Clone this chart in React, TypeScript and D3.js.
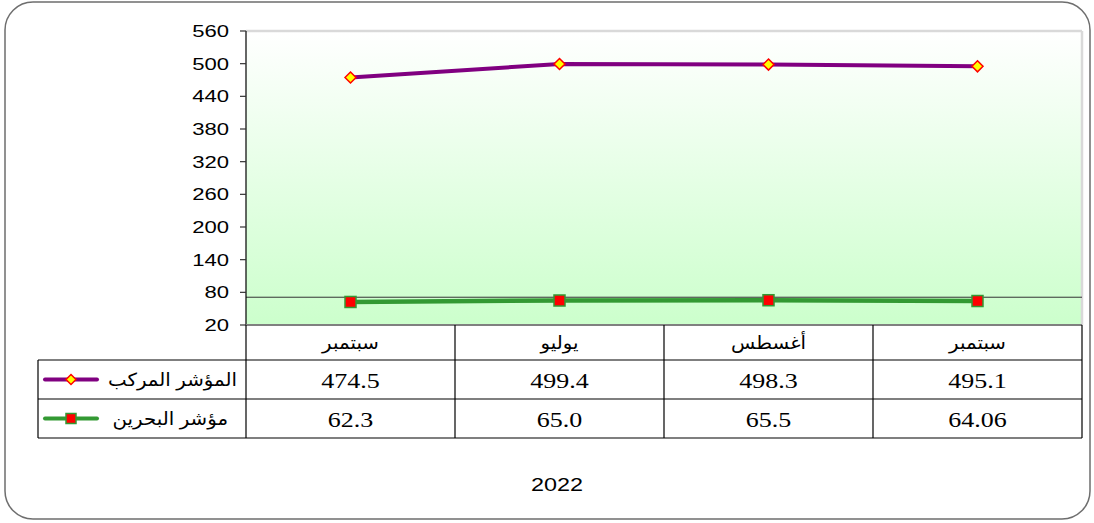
import React from "react";
import * as d3 from "d3";

const categories = ["سبتمبر", "يوليو", "أغسطس", "سبتمبر"];
const compositeValues = [474.5, 499.4, 498.3, 495.1];
const compositeLabels = ["474.5", "499.4", "498.3", "495.1"];
const bahrainValues = [62.3, 65.0, 65.5, 64.06];
const bahrainLabels = ["62.3", "65.0", "65.5", "64.06"];
const seriesNames = ["المؤشر المركب", "مؤشر البحرين"];
const yTicks = [20, 80, 140, 200, 260, 320, 380, 440, 500, 560];
const refLineValue = 71;
const yearLabel = "2022";

const W = 1094;
const H = 523;
const plotL = 246;
const plotR = 1082;
const plotT = 31;
const plotB = 325;
const tableLeft = 38;
const rowBounds = [325, 360, 399, 438];
const stretch = 1.3;

const sansFont = "'Liberation Sans', Arial, 'DejaVu Sans', sans-serif";
const serifFont = "'Liberation Serif', 'Times New Roman', 'DejaVu Sans', serif";

function SText(props: {
  x: number;
  y: number;
  anchor: string;
  font: string;
  size: number;
  sx?: number;
  children: React.ReactNode;
}) {
  const sx = props.sx ?? stretch;
  return (
    <text
      transform={`translate(${props.x},${props.y}) scale(${sx},1)`}
      dy="0.35em"
      textAnchor={props.anchor}
      fontFamily={props.font}
      fontSize={props.size}
      fill="#000"
    >
      {props.children}
    </text>
  );
}

export default function App() {
  const x = d3.scaleBand<number>().domain(d3.range(categories.length)).range([plotL, plotR]).padding(0);
  const y = d3.scaleLinear().domain([20, 560]).range([plotB, plotT]);
  const cx = (i: number) => (x(i) as number) + x.bandwidth() / 2;
  const line = d3.line<number>().x((_, i) => cx(i)).y((v) => y(v));

  const diamond = (px: number, py: number, r: number) =>
    `M${px},${py - r}L${px + r},${py}L${px},${py + r}L${px - r},${py}Z`;

  const colEdges = [plotL, ...categories.map((_, i) => (x(i) as number) + x.bandwidth())];

  return (
    <svg
      width={W}
      height={H}
      style={{ position: "absolute", left: 0, top: 0, background: "#fff" }}
    >
      <defs>
        <linearGradient id="bg" x1="0" y1="0" x2="0" y2="1">
          <stop offset="0" stopColor="#ffffff" />
          <stop offset="1" stopColor="#ccffcc" />
        </linearGradient>
      </defs>
      <rect x={5} y={2} width={1085} height={517} rx={28} ry={28} fill="#fff" stroke="#6e6e6e" strokeWidth={1.5} />

      {/* plot area */}
      <rect x={plotL} y={plotT} width={plotR - plotL} height={plotB - plotT} fill="url(#bg)" />
      <line x1={plotL} x2={plotR} y1={plotT} y2={plotT} stroke="#d9d9d9" strokeWidth={2.5} />
      <line x1={plotR} x2={plotR} y1={plotT} y2={plotB} stroke="#d9d9d9" strokeWidth={2.5} />
      <line x1={plotL} x2={plotR} y1={y(refLineValue)} y2={y(refLineValue)} stroke="#333" strokeWidth={1} />

      {/* y axis */}
      <line x1={plotL} x2={plotL} y1={plotT} y2={plotB} stroke="#000" strokeWidth={1.2} />
      {yTicks.map((t) => (
        <g key={t}>
          <line x1={plotL - 6} x2={plotL} y1={y(t)} y2={y(t)} stroke="#333" strokeWidth={1.2} />
          <SText x={229} y={y(t)} anchor="end" font={sansFont} size={17}>
            {t}
          </SText>
        </g>
      ))}

      {/* series lines */}
      <path d={line(compositeValues) || ""} fill="none" stroke="#800080" strokeWidth={4} />
      <path d={line(bahrainValues) || ""} fill="none" stroke="#339933" strokeWidth={4.5} />
      {compositeValues.map((v, i) => (
        <path key={"c" + i} d={diamond(cx(i), y(v), 5.5)} fill="#ffff00" stroke="#ff0000" strokeWidth={1.5} />
      ))}
      {bahrainValues.map((v, i) => (
        <rect key={"b" + i} x={cx(i) - 5.5} y={y(v) - 5.5} width={11} height={11} fill="#ff0000" stroke="#339933" strokeWidth={1.5} />
      ))}

      {/* table */}
      <line x1={plotL} x2={plotR} y1={plotB} y2={plotB} stroke="#808080" strokeWidth={2} />
      {[rowBounds[1], rowBounds[2], rowBounds[3]].map((yy) => (
        <line key={yy} x1={tableLeft} x2={plotR} y1={yy} y2={yy} stroke="#000" strokeWidth={1.2} />
      ))}
      <line x1={tableLeft} x2={tableLeft} y1={rowBounds[1]} y2={rowBounds[3]} stroke="#000" strokeWidth={1.2} />
      {colEdges.map((e, i) => (
        <line key={"v" + i} x1={e} x2={e} y1={plotB} y2={rowBounds[3]} stroke="#000" strokeWidth={1.2} />
      ))}
      {categories.map((c, i) => (
        <SText key={"h" + i} x={cx(i)} y={(rowBounds[0] + rowBounds[1]) / 2} anchor="middle" font={serifFont} size={18} sx={1.1}>
          {c}
        </SText>
      ))}
      {compositeLabels.map((s, i) => (
        <SText key={"cv" + i} x={cx(i)} y={(rowBounds[1] + rowBounds[2]) / 2 + 1} anchor="middle" font={serifFont} size={20}>
          {s}
        </SText>
      ))}
      {bahrainLabels.map((s, i) => (
        <SText key={"bv" + i} x={cx(i)} y={(rowBounds[2] + rowBounds[3]) / 2 + 1} anchor="middle" font={serifFont} size={20}>
          {s}
        </SText>
      ))}

      {/* legend keys in table */}
      {seriesNames.map((n, r) => {
        const yy = (rowBounds[r + 1] + rowBounds[r + 2]) / 2;
        const color = r === 0 ? "#800080" : "#339933";
        const mx = 71;
        return (
          <g key={"l" + r}>
            <line x1={45} x2={97} y1={yy} y2={yy} stroke={color} strokeWidth={4} strokeLinecap="round" />
            {r === 0 ? (
              <path d={diamond(mx, yy, 5)} fill="#ffff00" stroke="#ff0000" strokeWidth={1.5} />
            ) : (
              <rect x={mx - 5} y={yy - 5} width={10} height={10} fill="#ff0000" stroke="#339933" strokeWidth={1.5} />
            )}
            <SText x={r === 0 ? 237 : 228} y={yy} anchor="end" font={sansFont} size={18} sx={1.1}>
              {n}
            </SText>
          </g>
        );
      })}

      <SText x={557} y={485} anchor="middle" font={sansFont} size={18}>
        {yearLabel}
      </SText>
    </svg>
  );
}
